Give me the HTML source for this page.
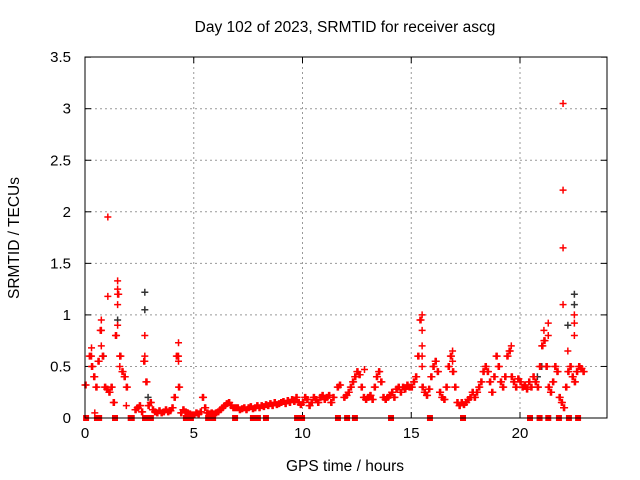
<!DOCTYPE html>
<html><head><meta charset="utf-8"><style>
body{margin:0;background:#fff}
svg{display:block;font-family:"Liberation Sans",sans-serif}
</style></head><body>
<svg id="chart" width="640" height="480">
<text x="345" y="32" font-size="15.5" text-anchor="middle">Day 102 of 2023, SRMTID for receiver ascg</text>
<text x="345" y="471" font-size="15.5" text-anchor="middle">GPS time / hours</text>
<text transform="translate(19,238) rotate(-90)" font-size="15.5" text-anchor="middle">SRMTID / TECUs</text>
<g id="grid"></g><g id="axes"></g><g id="marks"></g>
<rect x="85" y="57" width="522" height="361" fill="none" stroke="#000" stroke-width="1"/>
</svg>
<script>
const xTicks=[0,5,10,15,20];
const yTicks=[0,0.5,1,1.5,2,2.5,3,3.5];
const yTickLabels=["0","0.5","1","1.5","2","2.5","3","3.5"];
const baseStart=0, baseStep=0.1;
const baseValues=[
0.32,null,0.6,0.5,0.4,0.3,0.55,0.85,0.6,0.3,
0.28,0.25,0.3,0.15,0.8,1.2,0.6,0.45,0.4,0.3,
null,null,null,0.08,0.1,0.12,0.06,0.55,0.35,0.12,
0.15,0.08,0.06,0.05,0.07,0.05,0.06,0.08,0.06,0.07,
0.1,0.2,0.6,0.3,0.05,0.08,0.06,0.05,0.04,0.03,
0.03,0.05,0.04,0.06,0.2,0.1,0.05,0.04,0.05,0.04,
0.05,0.06,0.08,0.1,0.12,0.14,0.15,0.12,0.1,0.1,
0.1,0.08,0.09,0.1,0.08,0.1,0.11,0.09,0.1,0.12,
0.1,0.12,0.11,0.13,0.12,0.14,0.12,0.15,0.13,0.14,
0.15,0.16,0.14,0.17,0.15,0.18,0.16,0.2,0.15,0.13,
0.15,0.2,0.18,0.12,0.15,0.2,0.18,0.15,0.2,0.22,
0.18,0.2,0.22,0.15,0.2,null,0.3,0.32,null,0.2,
0.22,0.25,0.3,0.35,0.4,0.45,0.42,0.3,0.2,0.18,
0.2,0.22,0.18,0.3,0.4,0.45,0.35,0.2,0.18,0.2,
0.22,0.25,0.2,0.28,0.3,0.25,0.3,0.28,0.32,0.3,
0.3,0.35,0.4,0.6,0.95,0.3,0.25,0.22,0.28,0.4,
0.5,0.55,0.45,0.25,0.2,0.18,0.3,0.5,0.6,0.45,
0.3,0.15,0.12,0.15,0.13,0.15,0.18,0.2,0.25,0.2,
0.25,0.3,0.35,0.45,0.5,0.45,0.35,0.25,0.4,0.6,
0.5,0.35,0.3,0.4,0.6,0.65,0.4,0.35,0.3,0.38,
0.35,0.3,0.32,0.28,0.35,0.3,0.4,0.35,0.3,0.5,
0.7,0.75,0.5,0.3,0.25,0.35,0.5,0.45,0.2,0.15,
0.1,0.3,0.45,0.5,0.4,0.35,0.45,0.5,0.48,0.45];
const spikeHours=[1.05,1.05,1.5,1.5,1.5,1.5,0.75,0.75,0.75,2.75,2.75,4.3,4.3,4.3,15.5,15.5,15.5,15.5,15.5,21.98,21.98,21.98,21.98,22.5,22.5,22.5,21.3,21.3,22.2,16.9,16.9,19.6,21.1,12.85,0.3,0.3,1.6,1.6,0.45,1.9];
const spikeValues=[1.95,1.18,1.33,1.25,1.1,0.9,0.95,0.85,0.7,0.8,0.6,0.73,0.6,0.55,1.0,0.85,0.7,0.6,0.5,3.05,2.21,1.65,1.1,1.0,0.92,0.8,0.92,0.8,0.65,0.65,0.55,0.7,0.85,0.47,0.68,0.6,0.5,0.6,0.05,0.12];
const blackHours=[2.75,2.75,1.5,22.5,22.5,22.2,0.85,21.0,20.8,2.9];
const blackValues=[1.22,1.05,0.95,1.2,1.1,0.9,0.6,0.5,0.4,0.2];
const zeroHours=[0.05,0.55,0.65,1.38,2.1,2.15,2.76,3.03,4.64,4.87,5.66,5.89,6.9,7.72,7.95,8.32,9.75,9.98,11.63,12.05,12.41,14.07,15.86,17.38,20.46,20.9,21.3,21.79,22.25,22.67];

const X=h=>85+h*21.75, Y=v=>418-v*103.1;
const NS="http://www.w3.org/2000/svg";
function mk(tag,attrs,parent){const e=document.createElementNS(NS,tag);for(const k in attrs)e.setAttribute(k,attrs[k]);parent.appendChild(e);return e;}
const grid=document.getElementById('grid'),axes=document.getElementById('axes'),marks=document.getElementById('marks');
xTicks.forEach(t=>{
  const x=X(t);
  if(t>0){const g=mk('line',{x1:x,x2:x,y1:57,y2:418,stroke:'#999','stroke-dasharray':'2,3'},grid);
  
  }
  mk('line',{x1:x,x2:x,y1:418,y2:412,stroke:'#000'},axes);
  mk('line',{x1:x,x2:x,y1:57,y2:63,stroke:'#000'},axes);
  const l=mk('text',{x:x,y:438,'font-size':15,'text-anchor':'middle'},axes);l.textContent=t;
  
  
});
yTicks.forEach((t,i)=>{
  const y=Y(t);
  if(t>0&&t<3.5){const g=mk('line',{x1:85,x2:607,y1:y,y2:y,stroke:'#999','stroke-dasharray':'2,3'},grid);
  
  }
  mk('line',{x1:85,x2:91,y1:y,y2:y,stroke:'#000'},axes);
  mk('line',{x1:601,x2:607,y1:y,y2:y,stroke:'#000'},axes);
  const l=mk('text',{x:71,y:y+5,'font-size':15,'text-anchor':'end'},axes);l.textContent=yTickLabels[i];
  
  
});
function plus(h,v,col,name){
  const x=X(h),y=Y(v);
  const p=mk('path',{d:`M${x-3.5},${y}h7M${x},${y-3.5}v7`,stroke:col,'stroke-width':1.5,fill:'none'},marks);
  
  
}
zeroHours.forEach(h=>{
  const r=mk('rect',{x:X(h)-3,y:415,width:6,height:6,fill:'#f00'},marks);
  
  
});
blackHours.forEach((h,i)=>plus(h,blackValues[i],'#333','black-point'));
baseValues.forEach((v,i)=>{
  if(v===null)return;
  const h=baseStart+i*baseStep;
  plus(h,v,'#f00','srmtid-point');
  plus(h+baseStep/2,v,'#f00','srmtid-point');
});
spikeHours.forEach((h,i)=>plus(h,spikeValues[i],'#f00','spike-point'));
</script>
</body></html>
